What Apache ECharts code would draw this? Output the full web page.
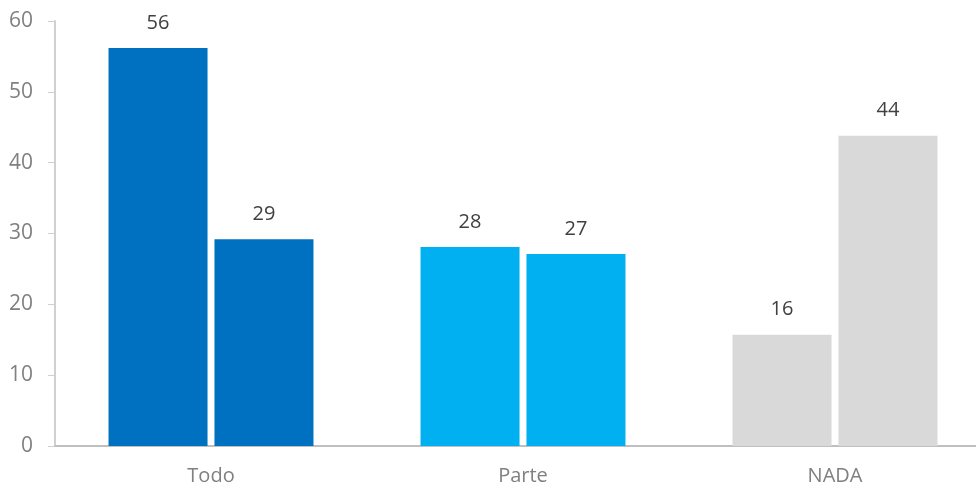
<!DOCTYPE html>
<html>
<head>
<meta charset="utf-8">
<script src="https://cdn.jsdelivr.net/npm/echarts@6/dist/echarts.min.js"></script>
<style>
  html, body { margin: 0; padding: 0; background: #fff; overflow: hidden; }
  #chart { width: 991px; height: 487px; }
</style>
</head>
<body>
<div id="chart"></div>
<script>
const categories = ['Todo', 'Parte', 'NADA']
const firstValues = [56.2, 28.1, 15.7]
const secondValues = [29.2, 27.1, 43.8]
const yTicks = [0, 10, 20, 30, 40, 50, 60]
const categoryColors = ['#0070C0', '#00B0F0', '#D9D9D9']

const chart = echarts.init(document.getElementById('chart'))

function makeSeries(values) {
  return {
    type: 'bar',
    barWidth: 99,
    barGap: '7%',
    data: values.map((v, i) => ({ value: v, itemStyle: { color: categoryColors[i] } })),
    label: {
      show: true,
      position: 'top',
      distance: 15,
      color: '#404040',
      fontSize: 20,
      fontFamily: 'Open Sans',
      formatter: (p) => Math.round(p.value)
    }
  }
}

chart.setOption({
  animation: false,
  grid: { left: 55, right: 0, top: 21, bottom: 41 },
  xAxis: {
    type: 'category',
    data: categories,
    axisLine: { lineStyle: { color: '#BFBFBF', width: 2 } },
    axisTick: { show: false },
    axisLabel: { color: '#808080', fontSize: 20, fontFamily: 'Open Sans', margin: 20 }
  },
  yAxis: {
    type: 'value',
    min: yTicks[0],
    max: yTicks[yTicks.length - 1],
    interval: 10,
    axisLine: { show: true, lineStyle: { color: '#D0D0D0', width: 2 } },
    axisTick: { show: true, length: 7, lineStyle: { color: '#D0D0D0' } },
    splitLine: { show: false },
    axisLabel: { color: '#808080', fontSize: 21, fontFamily: 'Open Sans', margin: 22 }
  },
  series: [makeSeries(firstValues), makeSeries(secondValues)]
})
</script>
</body>
</html>
